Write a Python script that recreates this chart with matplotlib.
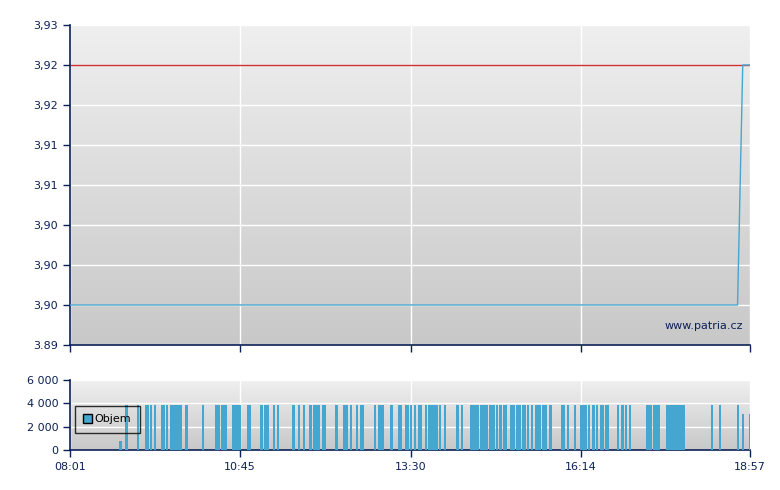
import matplotlib
matplotlib.use('Agg')
import matplotlib.pyplot as plt
from matplotlib.colors import LinearSegmentedColormap
from matplotlib.patches import Patch
import numpy as np

# price (minutes after 08:01)
price_t = [0, 644, 649, 656]
price_v = [3.895, 3.895, 3.925, 3.925]
prev_close = 3.925

price_ticks = [3.89, 3.895, 3.90, 3.905, 3.91, 3.915, 3.92, 3.925, 3.93]
price_labels = ['3.89', '3,90', '3,90', '3,90', '3,91', '3,91', '3,92', '3,92', '3,93']

time_labels = ['08:01', '10:45', '13:30', '16:14', '18:57']

# volume bars: start / end in minutes after 08:01
vol_start = [47, 53, 65, 72, 77, 81, 88, 93, 96, 111, 127, 140, 146, 156, 171,
             183, 187, 196, 200, 214, 220, 225, 231, 234, 243, 256, 263, 270,
             276, 280, 293, 297, 309, 316, 323, 328, 332, 336, 342, 345, 356,
             361, 372, 377, 386, 396, 404, 411, 414, 418, 424, 430, 436, 441,
             445, 449, 455, 462, 474, 479, 486, 492, 500, 504, 507, 511, 516,
             528, 532, 535, 539, 556, 562, 575, 618, 626, 643, 648, 655]
vol_end = [50, 56, 67, 76, 79, 83, 92, 95, 108, 114, 129, 145, 151, 165, 175,
           186, 192, 198, 202, 217, 222, 227, 233, 241, 247, 259, 268, 272,
           278, 284, 295, 303, 312, 320, 327, 330, 334, 340, 344, 355, 358,
           363, 375, 379, 395, 403, 410, 413, 417, 422, 429, 435, 440, 443,
           447, 454, 460, 465, 478, 481, 488, 499, 502, 506, 509, 515, 520,
           530, 534, 537, 541, 561, 569, 593, 620, 628, 645, 650, 657]
vol_value = [770] + [3850] * 76 + [3100, 3100]

vol_ticks = [0, 2000, 4000, 6000]

navy = '#0b2155'
blue = '#45a6cf'


def to_min(s):
    h, m = s.split(':')
    return int(h) * 60 + int(m) - 481


time_pos = [to_min(s) for s in time_labels]

grad = LinearSegmentedColormap.from_list('bg', ['#c8c8c8', '#efefef'])

fig = plt.figure(figsize=(7.8, 4.9), dpi=100)
ax1 = fig.add_axes([70 / 780, 1 - 345 / 490, 680 / 780, 320 / 490])
ax2 = fig.add_axes([70 / 780, 1 - 450 / 490, 680 / 780, 70 / 490])

for ax in (ax1, ax2):
    ax.imshow(np.linspace(0, 1, 256)[:, None], extent=[0, 1, 0, 1], origin='lower',
              transform=ax.transAxes, aspect='auto', cmap=grad, zorder=0)
    for s in ('top', 'right'):
        ax.spines[s].set_visible(False)
    for s in ('left', 'bottom'):
        ax.spines[s].set_color(navy)
        ax.spines[s].set_linewidth(1.2)
    ax.tick_params(colors=navy, labelsize=8, length=5, width=1)
    ax.grid(True, color='white', linewidth=1, zorder=1)
    ax.set_axisbelow(True)
    ax.set_xticks(time_pos)
    ax.set_xlim(0, 656)

# price chart
ax1.axhline(prev_close, color='#d03030', linewidth=1, zorder=2)
ax1.plot(price_t, price_v, color=blue, linewidth=1, zorder=3)
ax1.set_ylim(3.89, 3.93)
ax1.set_yticks(price_ticks)
ax1.set_yticklabels(price_labels)
ax1.set_xticklabels([])
ax1.text(0.99, 0.06, 'www.patria.cz', transform=ax1.transAxes, ha='right',
         va='center', fontsize=8, color=navy)

# volume chart
widths = [e - s for s, e in zip(vol_start, vol_end)]
ax2.bar(vol_start, vol_value, width=widths, align='edge', color=blue,
        linewidth=0, antialiased=False, zorder=3)
ax2.set_ylim(0, 6000)
ax2.set_yticks(vol_ticks)
ax2.set_yticklabels([f'{v:,}'.replace(',', ' ') for v in vol_ticks])
ax2.set_xticklabels(time_labels)
ax2.set_xlim(0, 656)

leg = ax2.legend(handles=[Patch(facecolor=blue, edgecolor='black', label='Objem')],
                 loc='center left', bbox_to_anchor=(0.007, 0.44), fontsize=8,
                 frameon=True, fancybox=False, handlelength=0.8, handleheight=0.8,
                 handletextpad=0.25, borderpad=0.75, borderaxespad=0)
leg.get_frame().set_edgecolor('black')
leg.get_frame().set_facecolor('none')
leg.get_frame().set_linewidth(1)
for t in leg.get_texts():
    t.set_color('black')

fig.savefig('out.png', dpi=100)
